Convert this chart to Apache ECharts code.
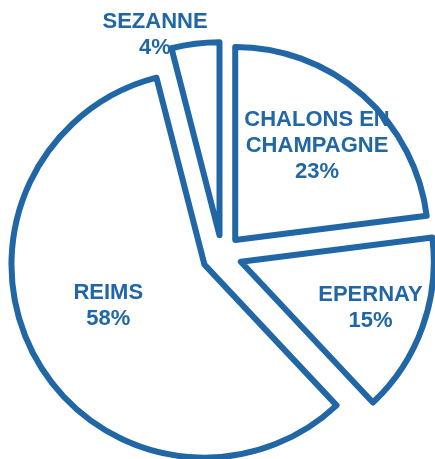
<!DOCTYPE html>
<html lang="fr">
<head>
  <meta charset="UTF-8">
  <title>Répartition</title>
  <style>
    * { box-sizing: border-box; padding: 0; margin: 0; }
    html, body, #main { width: 100%; height: 100%; background: #fff; }
  </style>
  <script src="https://cdn.jsdelivr.net/npm/echarts@6/dist/echarts.min.js"></script>
</head>
<body>
  <div id="main"></div>
  <script>
    // données
    var villes = ['CHALONS EN\nCHAMPAGNE', 'EPERNAY', 'REIMS', 'SEZANNE'];
    var parts = [23, 15, 58, 4];

    var bleu = '#2166a5';
    // décalage des étiquettes par rapport à la position "inside"
    var decalages = [[16, -19], [36, 12], [-9, -7], [-52, -102]];

    var myChart = echarts.init(document.getElementById('main'));
    var donnees = villes.map(function (v, i) {
      return { name: v, value: parts[i], selected: true };
    });

    var option = {
      animation: false,
      series: [{
        type: 'pie',
        center: [222, 255],
        radius: 193,
        startAngle: 90,
        clockwise: true,
        selectedMode: 'multiple',
        selectedOffset: 20,
        avoidLabelOverlap: false,
        itemStyle: {
          color: '#fff',
          borderColor: bleu,
          borderWidth: 6,
          borderJoin: 'round'
        },
        select: {
          itemStyle: { color: '#fff', borderColor: bleu, borderWidth: 6 }
        },
        emphasis: { disabled: true },
        label: {
          show: true,
          position: 'inside',
          formatter: '{b}\n{d}%',
          color: bleu,
          fontFamily: 'Liberation Sans, Arial, sans-serif',
          fontWeight: 'bold',
          fontSize: 22,
          lineHeight: 26,
          align: 'center'
        },
        labelLayout: function (p) {
          var d = decalages[p.dataIndex];
          return { dx: d[0], dy: d[1] };
        },
        labelLine: { show: false },
        data: donnees
      }]
    };
    myChart.setOption(option);
    window.onresize = myChart.resize;
  </script>
</body>
</html>
